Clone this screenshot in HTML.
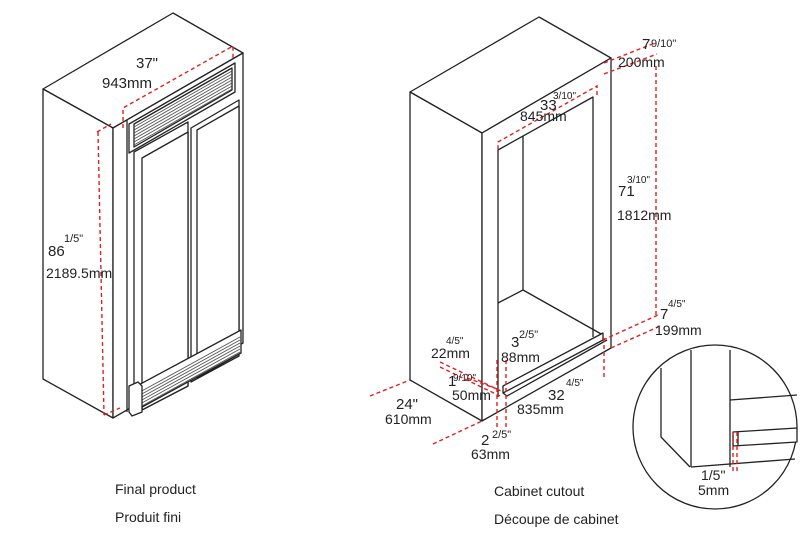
<!DOCTYPE html>
<html><head><meta charset="utf-8"><style>
html,body{margin:0;padding:0;background:#fff;}
svg{display:block}
text{font-family:"Liberation Sans",sans-serif;fill:#222}
</style></head><body>
<svg width="800" height="534" viewBox="0 0 800 534" xmlns="http://www.w3.org/2000/svg">
<g fill="none" stroke="#222" stroke-width="1.3" stroke-linejoin="round">
<!-- Fridge -->
<polygon points="43,89 173,13 243,53 113,128" fill="#fff"/>
<polygon points="43,89 113,128 113,418 43,379" fill="#fff"/>
<polygon points="113,128 243,53 243,343 113,418" fill="#fff"/>
<line x1="127" y1="120" x2="127" y2="412"/>
<!-- top grille -->
<polygon points="129,124 235,63 235,92 129,153" fill="#fff"/>
<polygon points="134,124 232,68 232,90 134,147" fill="#fff"/>
<g stroke="#555" stroke-width="0.9">
<line x1="134" y1="127" x2="232" y2="71"/><line x1="134" y1="130" x2="232" y2="74"/><line x1="134" y1="133" x2="232" y2="77"/><line x1="134" y1="136" x2="232" y2="80"/><line x1="134" y1="139" x2="232" y2="83"/><line x1="134" y1="142" x2="232" y2="86"/><line x1="134" y1="145" x2="232" y2="89"/>
</g>
<!-- doors -->
<polygon points="134,152 188,122 188,386 134,414" fill="#fff"/>
<polygon points="142,158 188,132 188,386 142,410" fill="#fff"/>
<polygon points="191,128 239,100 239,356 191,382" fill="#fff"/>
<polygon points="197,130 239,106 239,354 197,378" fill="#fff"/>
<!-- bottom grille -->
<polygon points="133,388 241,330 241,353 133,412" fill="#fff"/>
<g stroke="#555" stroke-width="0.9">
<line x1="140" y1="392" x2="240" y2="337"/><line x1="140" y1="395" x2="240" y2="340"/><line x1="140" y1="398" x2="240" y2="343"/><line x1="140" y1="401" x2="240" y2="346"/><line x1="140" y1="404" x2="240" y2="349"/><line x1="140" y1="407" x2="240" y2="352"/>
</g>
<polygon points="129,386 138,382 142,386 142,412 132,416 129,412" fill="#fff"/>
<!-- Cabinet -->
<polygon points="410,92 539,17 611,58 482,133" fill="#fff"/>
<polygon points="410,92 482,133 482,421 410,380" fill="#fff"/>
<polygon points="482,133 611,58 611,348 482,421" fill="#fff"/>
<polyline points="498,397 498,150 593,97 593,337"/>
<line x1="523" y1="136" x2="523" y2="290"/>
<polyline points="498,303 523,290 603,335"/>
<polygon points="503,386 603,333 603,340 503,393" fill="#fff"/>
<polyline points="503,393 507,396 607,340"/>
<!-- detail circle -->
<circle cx="715" cy="427" r="82" fill="#fff"/>
<polyline points="661,368 661,437 690,467"/>
<polyline points="691,350 691,467"/>
<polyline points="730,350 730,467"/>
<line x1="691" y1="467" x2="795" y2="459"/>
<line x1="730" y1="400" x2="797" y2="395"/>
<polygon points="733,432 797,428 797,442 733,446" fill="#fff"/>
<line x1="738" y1="432" x2="738" y2="446"/>
</g>
<!-- red dashed dims -->
<g fill="none" stroke="#e02020" stroke-width="1.4" stroke-dasharray="4,3">
<polyline points="123,128 123,108 233,46 233,60"/>
<polyline points="97,132 111,124"/>
<line x1="98" y1="132" x2="104" y2="415"/>
<line x1="104" y1="415" x2="120" y2="408"/>
<polyline points="597,95 597,86 498,142 498,150"/>
<line x1="604" y1="63" x2="655" y2="43"/>
<line x1="604" y1="74" x2="657" y2="54"/>
<line x1="656" y1="66" x2="656" y2="315"/>
<line x1="603" y1="340" x2="658" y2="315"/>
<line x1="611" y1="348" x2="658" y2="327"/>
<line x1="604" y1="338" x2="604" y2="380"/>
<line x1="497" y1="360" x2="497" y2="427"/>
<line x1="506" y1="360" x2="506" y2="427"/>
<line x1="440" y1="362" x2="503" y2="392"/>
<line x1="440" y1="367" x2="500" y2="396"/>
<line x1="467" y1="378" x2="500" y2="390"/>
<line x1="370" y1="396" x2="410" y2="380"/>
<line x1="433" y1="444" x2="482" y2="421"/>
<line x1="733" y1="432" x2="733" y2="473"/>
<line x1="737" y1="432" x2="737" y2="473"/>
</g>
<!-- labels -->
<g font-size="14">
<text x="136" y="68" font-size="15">37"</text>
<text x="102" y="88" font-size="15">943mm</text>
<text x="48" y="256" font-size="15">86</text>
<text x="64" y="242" font-size="11">1/5"</text>
<text x="46" y="278">2189.5mm</text>
<text x="642" y="49" font-size="15">7</text>
<text x="651" y="47" font-size="11">9/10"</text>
<text x="618" y="67">200mm</text>
<text x="540" y="110" font-size="15">33</text>
<text x="553" y="99" font-size="10">3/10"</text>
<text x="520" y="121">845mm</text>
<text x="618" y="196" font-size="15">71</text>
<text x="627" y="183" font-size="10">3/10"</text>
<text x="617" y="220">1812mm</text>
<text x="660" y="319" font-size="15">7</text>
<text x="668" y="307" font-size="10">4/5"</text>
<text x="655" y="335">199mm</text>
<text x="446" y="344" font-size="10">4/5"</text>
<text x="431" y="358">22mm</text>
<text x="511" y="347" font-size="15">3</text>
<text x="519" y="338" font-size="11">2/5"</text>
<text x="501" y="362">88mm</text>
<text x="448" y="386" font-size="15">1</text>
<text x="453" y="381" font-size="10">9/10"</text>
<text x="452" y="400">50mm</text>
<text x="548" y="400" font-size="15">32</text>
<text x="566" y="386" font-size="10">4/5"</text>
<text x="517" y="414">835mm</text>
<text x="396" y="409" font-size="15">24"</text>
<text x="385" y="424">610mm</text>
<text x="481" y="445" font-size="15">2</text>
<text x="492" y="438" font-size="11">2/5"</text>
<text x="471" y="459">63mm</text>
<text x="701" y="480">1/5"</text>
<text x="698" y="495">5mm</text>
<text x="115" y="494" font-size="14">Final product</text>
<text x="115" y="522" font-size="14">Produit fini</text>
<text x="494" y="496" font-size="14">Cabinet cutout</text>
<text x="494" y="524" font-size="14">Découpe de cabinet</text>
</g>
</svg>
</body></html>
